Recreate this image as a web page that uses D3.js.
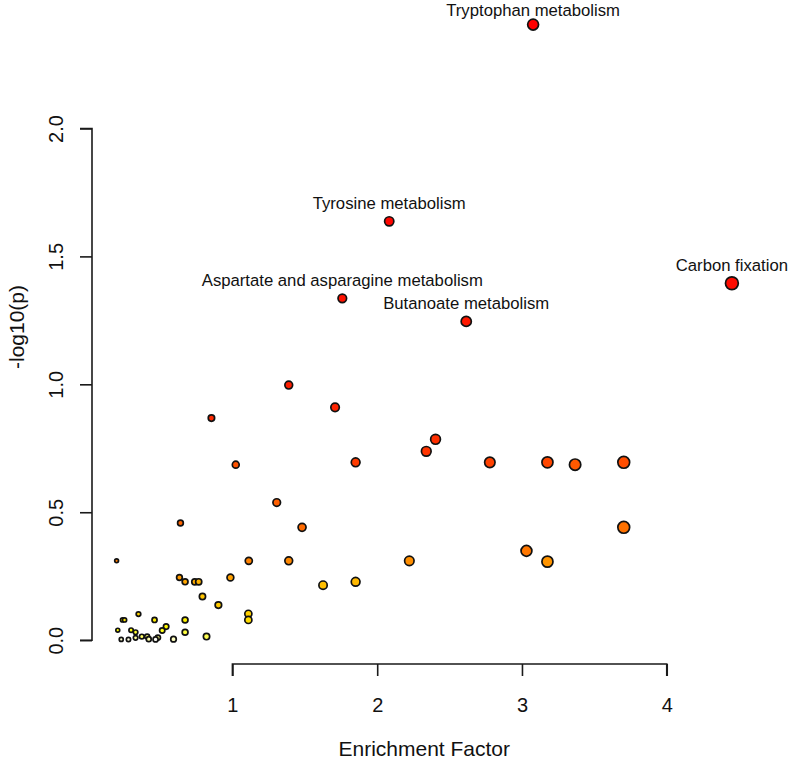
<!DOCTYPE html>
<html>
<head>
<meta charset="utf-8">
<script src="https://cdn.jsdelivr.net/npm/d3@7"></script>
<style>
  html, body { margin: 0; padding: 0; background: #fff; }
  svg { display: block; font-family: "Liberation Sans", Arial, sans-serif; }
</style>
</head>
<body>
<div id="chart"></div>
<script>
// ---------------- data ----------------
const pathwayNames = [
  "Tryptophan metabolism", "Tyrosine metabolism", "Carbon fixation",
  "Aspartate and asparagine metabolism", "Butanoate metabolism"
];
const enrichment = [
  3.077, 2.083, 4.45, 1.759, 2.615,
  1.389, 1.709, 0.855, 2.403, 2.339, 1.851, 2.778, 3.176, 3.703, 1.023,
  3.367, 1.306, 0.641, 1.481, 3.703, 3.031, 0.2, 1.113, 1.389, 2.222,
  3.176, 0.634, 0.986, 0.673, 0.74, 0.767, 1.851, 1.626, 0.793, 0.903,
  1.11, 0.351, 1.11, 0.241, 0.255, 0.462, 0.673, 0.542, 0.208, 0.30,
  0.515, 0.331, 0.673, 0.821, 0.374, 0.411, 0.485, 0.331, 0.422, 0.593,
  0.232, 0.282, 0.469
];
const logP = [
  2.406, 1.637, 1.395, 1.336, 1.246,
  0.997, 0.910, 0.868, 0.785, 0.738, 0.695, 0.695, 0.695, 0.695, 0.686,
  0.686, 0.538, 0.458, 0.441, 0.441, 0.349, 0.31, 0.31, 0.31, 0.31,
  0.307, 0.245, 0.245, 0.228, 0.228, 0.228, 0.228, 0.215, 0.171, 0.137,
  0.103, 0.102, 0.079, 0.079, 0.079, 0.079, 0.079, 0.053, 0.039, 0.039,
  0.038, 0.031, 0.031, 0.014, 0.014, 0.014, 0.010, 0.009, 0.004, 0.004,
  0.003, 0.003, 0.003
];
const xTicks = [1, 2, 3, 4];
const yTicks = [0, 0.5, 1.0, 1.5, 2.0];
const xTitle = "Enrichment Factor";
const yTitle = "-log10(p)";

// ---------------- layout ----------------
const W = 788, H = 761;
const plotLeft = 92, plotRight = 756.5, plotTop = 0, plotBottom = 664;

const svg = d3.select("#chart").append("svg")
  .attr("width", W).attr("height", H);

// R-style 4% padding of the data range
const xExt = d3.extent(enrichment), yExt = d3.extent(logP);
const xPad = (xExt[1] - xExt[0]) * 0.04, yPad = (yExt[1] - yExt[0]) * 0.04;
const x = d3.scaleLinear().domain([xExt[0] - xPad, xExt[1] + xPad]).range([plotLeft, plotRight]);
const y = d3.scaleLinear().domain([yExt[0] - yPad, yExt[1] + yPad]).range([plotBottom, plotTop]);

// heat.colors (R) implementation
function hsvToRgb(h, s, v) {
  const hh = h * 6, k = Math.floor(hh) % 6, f = hh - Math.floor(hh);
  const p = v * (1 - s), q = v * (1 - f * s), t = v * (1 - (1 - f) * s);
  let r, g, b;
  switch (k) {
    case 0: r = v; g = t; b = p; break;
    case 1: r = q; g = v; b = p; break;
    case 2: r = p; g = v; b = t; break;
    case 3: r = p; g = q; b = v; break;
    case 4: r = t; g = p; b = v; break;
    default: r = v; g = p; b = q;
  }
  return d3.rgb(r * 255, g * 255, b * 255).formatHex();
}
function heatColors(n) {
  const j = Math.floor(n / 4), i = n - j;
  const out = [];
  for (let k = 0; k < i; k++) out.push(hsvToRgb(i > 1 ? (k / (i - 1)) / 6 : 0, 1, 1));
  const s0 = 1 - 1 / (2 * j), s1 = 1 / (2 * j);
  for (let k = 0; k < j; k++) {
    const s = j > 1 ? s0 + k * (s1 - s0) / (j - 1) : 0.5;
    out.push(hsvToRgb(1 / 6, s, 1));
  }
  return out;
}

// points ordered by -log10(p), decreasing
const pts = enrichment.map((e, k) => ({ e, p: logP[k], name: pathwayNames[k] || "" }));
const ordered = pts.map((d, k) => ({ ...d, k }))
  .sort((a, b) => (b.p - a.p) || (a.k - b.k));
const cols = heatColors(ordered.length);
ordered.forEach((d, k) => d.col = cols[k]);

const sq = ordered.map(d => Math.sqrt(d.e));
const minS = d3.min(sq), maxS = d3.max(sq);
const maxR = (maxS - minS) / 40, minR = (maxS - minS) / 160;
const pxPerUnit = x(1) - x(0);
ordered.forEach(d => {
  d.r = (minR + (maxR - minR) * (Math.sqrt(d.e) - minS) / (maxS - minS)) * pxPerUnit;
});

// ---------------- axes ----------------
const axisColor = "#1a1a1a";
const xAxis = d3.axisBottom(x).tickValues(xTicks).tickSize(12).tickPadding(22)
  .tickFormat(d3.format("d"));
const gx = svg.append("g").attr("transform", `translate(0,${plotBottom})`).call(xAxis);
gx.select(".domain").attr("d", `M${x(xTicks[0])},12V0H${x(xTicks[xTicks.length - 1])}V12`)
  .attr("stroke", axisColor).attr("stroke-width", 1.6);
gx.selectAll(".tick line").attr("stroke", axisColor).attr("stroke-width", 1.6);
gx.selectAll(".tick text").attr("font-size", 20).attr("fill", "#111")
  .attr("font-family", "'Liberation Sans', Arial, sans-serif");

const yAxis = d3.axisLeft(y).tickValues(yTicks).tickSize(12).tickFormat(d3.format(".1f"));
const gy = svg.append("g").attr("transform", `translate(${plotLeft},0)`).call(yAxis);
gy.select(".domain").attr("d", `M-12,${y(yTicks[0])}H0V${y(yTicks[yTicks.length - 1])}H-12`)
  .attr("stroke", axisColor).attr("stroke-width", 1.6);
gy.selectAll(".tick line").attr("stroke", axisColor).attr("stroke-width", 1.6);
gy.selectAll(".tick text")
  .attr("font-size", 20).attr("fill", "#111")
  .attr("font-family", "'Liberation Sans', Arial, sans-serif")
  .attr("x", null).attr("dy", null)
  .attr("text-anchor", "middle")
  .attr("transform", "translate(-29,0) rotate(-90)");

// titles
svg.append("text").attr("x", (plotLeft + plotRight) / 2).attr("y", 756)
  .attr("text-anchor", "middle").attr("font-size", 21).attr("fill", "#111").text(xTitle);
svg.append("text").attr("transform", `translate(23.5,${(plotTop + plotBottom) / 2 - 5}) rotate(-90)`)
  .attr("text-anchor", "middle").attr("font-size", 21).attr("fill", "#111").text(yTitle);

// ---------------- points ----------------
svg.append("g").selectAll("circle")
  .data(ordered)
  .join("circle")
  .attr("cx", d => x(d.e))
  .attr("cy", d => y(d.p))
  .attr("r", d => d.r + 0.4)
  .attr("fill", d => d.col)
  .attr("stroke", "#111")
  .attr("stroke-width", 1.7);

// labels
svg.append("g").selectAll("text")
  .data(ordered.filter(d => d.name))
  .join("text")
  .attr("x", d => x(d.e))
  .attr("y", d => Math.max(y(d.p) - 12, 15.5))
  .attr("text-anchor", "middle")
  .attr("font-size", 16.7)
  .attr("fill", "#111")
  .text(d => d.name);
</script>
</body>
</html>
